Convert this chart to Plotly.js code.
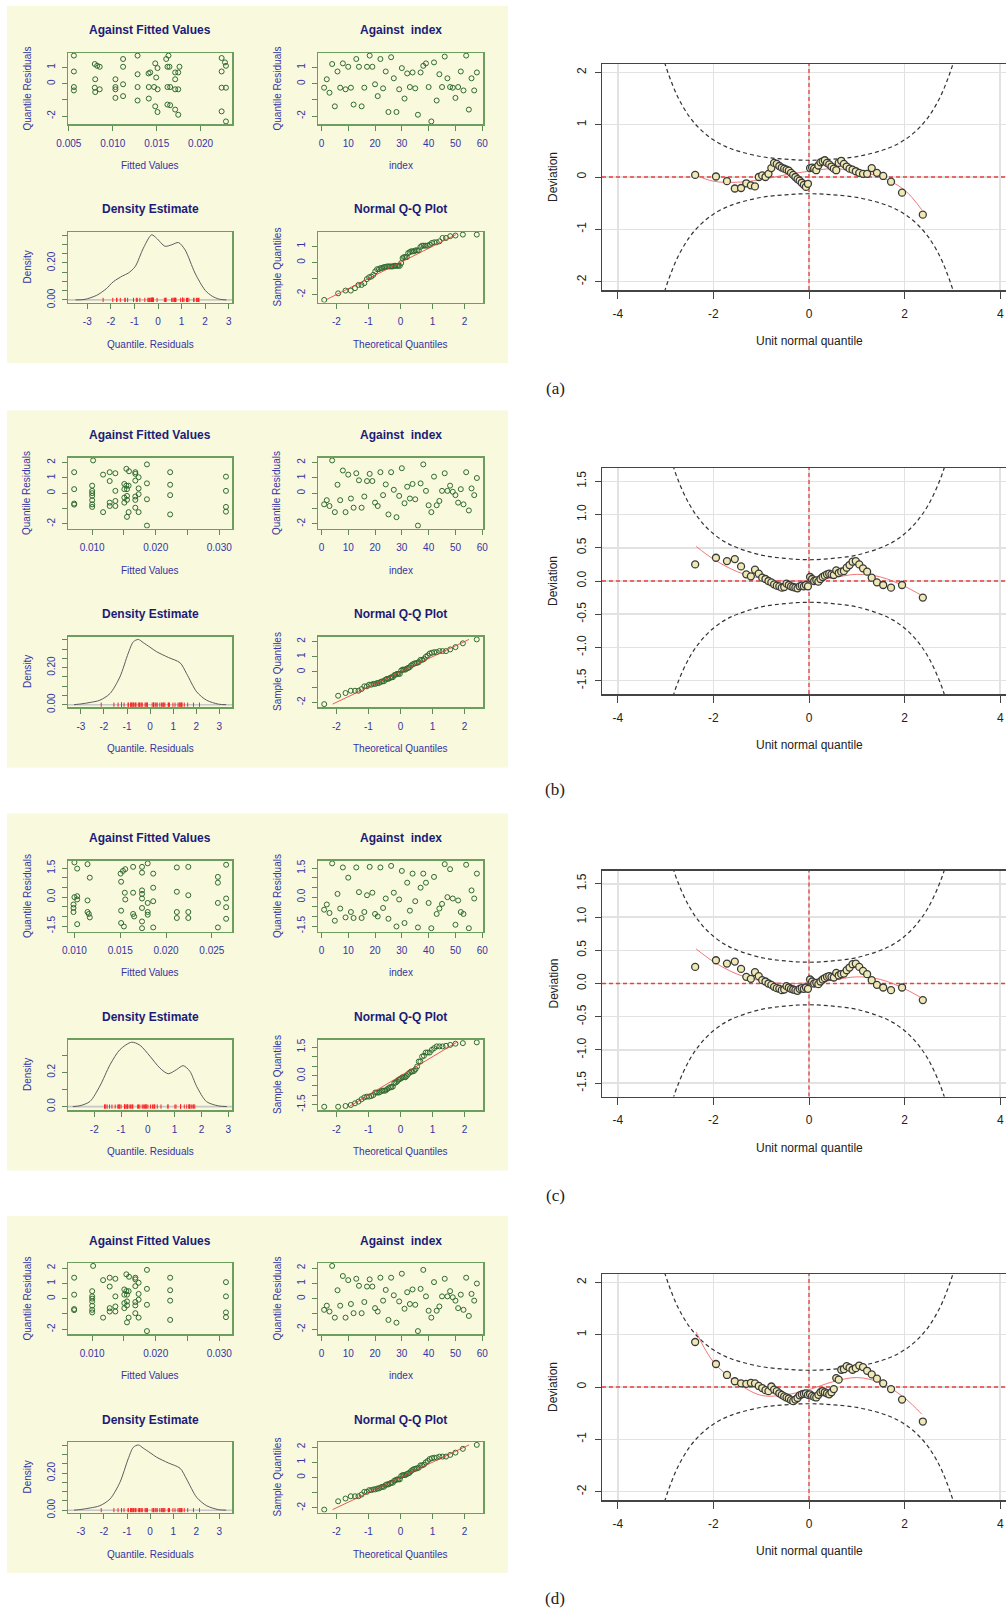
<!DOCTYPE html>
<html>
<head>
<meta charset="utf-8">
<script src="https://cdn.plot.ly/plotly-3.0.1.min.js"></script>
<style>
  html, body { margin: 0; padding: 0; overflow: hidden; background: #ffffff; width: 1006px; height: 1610px; }
  #chart { width: 1030px; height: 1610px; }
</style>
</head>
<body>
<div id="chart"></div>
<script>
// ---------------- data ----------------
// theoretical normal quantiles of the 58 ordered residuals
const tq = [-2.381,-1.946,-1.716,-1.552,-1.421,-1.312,-1.216,-1.130,-1.051,-0.979,-0.911,-0.848,-0.788,-0.730,-0.674,-0.621,-0.570,-0.519,-0.470,-0.423,-0.376,-0.330,-0.285,-0.240,-0.196,-0.152,-0.108,-0.065,-0.022,
            0.022,0.065,0.108,0.152,0.196,0.240,0.285,0.330,0.376,0.423,0.470,0.519,0.570,0.621,0.674,0.730,0.788,0.848,0.911,0.979,1.051,1.130,1.216,1.312,1.421,1.552,1.716,1.946,2.381];

// model (a): quantile residuals in observation order
const resA = [-0.25,0.27,-0.56,1.21,-1.40,0.75,-0.25,1.25,-0.35,1.04,-0.25,-1.29,1.52,1.04,-1.40,-0.25,1.04,1.73,1.04,-0.04,
              -0.77,1.52,-0.29,0.75,-1.75,1.63,0.33,-1.75,-0.35,0.96,-0.92,0.63,-0.21,0.69,-0.29,-1.92,0.69,1.10,1.25,-0.21,
              -2.33,1.31,-1.04,0.58,-0.21,1.67,0.33,-0.21,-0.25,-0.88,-0.21,0.75,-0.42,1.73,-1.60,0.33,-0.42,0.69];
const fitXA = [0.00557,0.00557,0.00557,0.00557,0.00795,0.00822,0.00851,0.0080,0.00795,0.00851,0.0080,
               0.0103,0.0103,0.0103,0.0103,0.01117,0.01117,0.01117,0.01117,0.01282,0.01282,0.01282,0.01282,
               0.01407,0.01426,0.01483,0.01509,0.01494,0.0141,0.0147,0.0151,0.0141,0.01483,0.01509,
               0.01608,0.01634,0.01622,0.01645,0.01622,0.01653,0.01622,0.01653,0.0171,0.01745,0.0171,0.0171,0.01745,0.0171,0.01745,0.01759,
               0.02239,0.02277,0.02288,0.02239,0.02239,0.02288,0.02239,0.02288];
const fitYA = [1.73,0.75,-0.21,-0.42,1.21,1.10,1.04,0.27,-0.25,-0.35,-0.52,
               0.27,-0.21,-0.35,-0.88,1.52,1.04,-0.04,-0.77,1.73,0.58,-0.21,-1.04,
               0.63,0.69,1.25,0.96,0.38,-0.21,-0.21,-0.35,-0.92,-1.40,-1.75,
               1.52,1.73,1.04,1.04,-0.21,-0.21,-1.29,-1.33,0.69,0.69,0.27,-0.35,-0.35,-1.60,-1.92,1.04,
               1.58,1.31,1.10,0.75,-0.25,-0.25,-1.71,-2.33];
const densXA = [-3.5,-3.1,-2.6,-2.2,-1.9,-1.5,-1.26,-0.97,-0.62,-0.27,-0.06,0.3,0.58,0.87,1.15,1.57,2.0,2.3,2.6,2.9];
const densYA = [0.0,0.003,0.025,0.06,0.098,0.13,0.145,0.18,0.28,0.352,0.333,0.29,0.298,0.31,0.27,0.145,0.052,0.02,0.004,0.0];
const refA = [-2.33, 1.73];

// model (b) (diagnostics repeated for model (d))
const resB = [-0.73,-0.46,-0.84,2.14,-1.24,0.55,-0.46,1.48,-1.24,1.21,-0.35,-0.95,1.30,0.84,-0.95,-0.22,0.79,1.26,0.79,-0.62,
              -0.84,1.37,-0.13,0.57,-1.39,1.37,0.22,-1.57,-0.18,1.63,-0.66,0.42,-0.35,0.60,-0.40,-2.12,0.64,1.88,0.15,-0.79,
              -1.24,1.08,-0.79,-0.51,0.15,1.30,0.15,0.49,0.09,-0.13,-0.62,0.26,-0.73,1.37,-1.13,0.31,-0.13,0.99];
const fitXB = [0.00717,0.00717,0.00717,0.00717,0.0100,0.0100,0.0100,0.0100,0.0100,0.0100,0.0100,0.01015,
               0.01172,0.01172,0.01276,0.01276,0.01276,0.01276,0.01365,0.01365,0.01365,0.01365,
               0.01538,0.0158,0.01506,0.01538,0.01574,0.01506,0.01548,0.01506,0.01548,0.01506,0.01548,0.01574,0.01548,
               0.01679,0.01679,0.01679,0.01679,0.01679,0.01679,0.01731,0.01731,0.01731,0.01731,
               0.01862,0.01862,0.01862,0.01862,0.02227,0.02227,0.02227,0.02227,0.03105,0.03105,0.03105,0.03105];
const fitYB = [1.37,0.26,-0.68,-0.75,0.49,0.15,0.0,-0.18,-0.46,-0.73,-0.90,2.14,
               1.21,-1.24,1.37,0.79,-0.62,-0.84,1.30,0.15,-0.51,-0.84,
               1.59,1.43,0.60,0.49,0.49,0.26,0.26,-0.29,-0.18,-0.62,-0.44,-1.24,-1.55,
               1.37,1.26,0.82,-0.22,-0.44,-0.95,1.04,0.31,-0.07,-1.24,
               1.88,0.64,-0.40,-2.12,1.37,0.55,-0.13,-1.39,1.08,0.15,-0.90,-1.21];
const densXB = [-3.3,-3.0,-2.6,-2.18,-1.74,-1.31,-0.95,-0.73,-0.51,-0.3,0.0,0.28,0.79,1.3,1.58,2.02,2.45,2.96,3.3];
const densYB = [0.0,0.004,0.012,0.024,0.06,0.15,0.277,0.339,0.352,0.335,0.31,0.286,0.255,0.226,0.168,0.069,0.024,0.003,0.0];
const refB = [-2.12, 2.14];

// model (c)
const resC = [-0.65,-0.38,-0.82,1.75,-1.22,0.17,-0.59,1.54,-1.05,1.01,-0.77,-1.08,1.54,0.26,-1.08,-0.77,0.10,1.57,0.23,-0.87,
              -1.0,1.54,-0.56,-0.07,-1.12,1.62,0.23,-1.52,-0.12,1.36,-1.34,0.75,-0.70,1.22,-0.21,-1.57,0.49,1.22,0.75,-0.30,
              -1.61,1.05,-0.87,-0.59,-0.35,1.71,0.0,1.45,-0.07,-1.43,-0.17,-0.77,-0.87,1.68,-1.61,0.35,-0.07,1.22];
const fitXC = [0.0100,0.0103,0.0100,0.0103,0.0103,0.0099,0.0099,0.0099,0.0103,
               0.01143,0.01168,0.01143,0.01143,0.01157,0.01168,
               0.01504,0.0151,0.0153,0.01555,0.0151,0.0151,0.0154,0.0155,0.01555,
               0.01641,0.01641,0.01641,0.01652,
               0.01738,0.01738,0.01738,0.01738,0.01738,0.01738,0.01738,0.01738,
               0.0180,0.0180,0.0180,0.0180,0.0186,0.0186,0.0186,0.0186,
               0.02118,0.02118,0.02118,0.02118,0.02243,0.02243,0.02243,0.02243,
               0.02566,0.02566,0.02566,0.02566,0.02656,0.02656,0.02656,0.02656];
const fitYC = [1.80,1.48,0.0,0.05,-0.12,-0.38,-0.56,-0.77,-1.40,
               1.71,1.01,-0.17,-0.77,-0.87,-1.05,
               1.22,0.80,1.36,1.45,-0.70,-1.34,-1.52,0.23,-0.12,
               1.57,0.23,-0.87,-1.0,
               1.57,1.27,0.35,0.17,-0.07,-0.56,-1.26,-1.61,
               -0.30,-0.77,-0.91,1.75,1.22,0.49,-0.21,-1.57,
               1.54,0.28,-0.77,-1.08,1.57,0.10,-0.77,-1.08,
               1.05,0.75,-0.30,-1.57,1.68,-0.07,-0.52,-1.12];
const densXC = [-2.8,-2.53,-2.16,-1.79,-1.41,-1.04,-0.61,-0.30,0.08,0.45,0.76,1.07,1.32,1.57,1.82,2.19,2.63,2.95];
const densYC = [0.0,0.005,0.03,0.12,0.245,0.333,0.376,0.359,0.294,0.225,0.192,0.216,0.239,0.206,0.118,0.029,0.004,0.0];
const refC = [-1.61, 1.75];

// worm plots: deviation of ordered residuals from their normal quantiles
const wormA = [0.04,0.01,-0.08,-0.22,-0.21,-0.12,-0.16,-0.18,0.00,0.03,0.00,0.06,0.17,0.27,0.25,0.21,0.18,0.16,0.14,0.12,0.08,0.04,0.00,-0.04,-0.07,-0.11,-0.15,-0.19,-0.13,
               0.17,0.18,0.16,0.13,0.22,0.28,0.30,0.32,0.27,0.24,0.20,0.16,0.13,0.27,0.31,0.25,0.20,0.16,0.14,0.11,0.08,0.06,0.06,0.17,0.08,0.02,-0.09,-0.30,-0.72];
const wormB = [0.25,0.35,0.30,0.33,0.22,0.10,0.07,0.17,0.11,0.05,0.03,0.00,-0.02,-0.05,-0.07,-0.08,-0.10,-0.09,-0.04,-0.06,-0.08,-0.09,-0.10,-0.11,-0.08,-0.07,-0.08,-0.06,-0.08,
               0.06,0.03,0.00,0.01,-0.01,0.03,0.06,0.08,0.10,0.11,0.10,0.09,0.16,0.12,0.14,0.15,0.20,0.24,0.29,0.30,0.25,0.19,0.14,0.05,-0.02,-0.06,-0.10,-0.06,-0.25];
const wormD = [0.86,0.44,0.23,0.11,0.07,0.06,0.08,0.07,0.02,-0.02,-0.06,-0.08,0.01,-0.05,-0.08,-0.12,-0.15,-0.18,-0.20,-0.22,-0.25,-0.27,-0.24,-0.21,-0.16,-0.14,-0.13,-0.12,-0.15,
               -0.14,-0.17,-0.19,-0.20,-0.15,-0.10,-0.08,-0.10,-0.12,-0.14,-0.10,-0.04,0.17,0.14,0.33,0.34,0.40,0.37,0.33,0.36,0.41,0.38,0.31,0.24,0.16,0.07,-0.04,-0.24,-0.66];
// fitted cubic curves of the worms
const wfitX = [-2.36,-2.0,-1.5,-1.0,-0.5,0,0.5,1.0,1.5,2.0,2.36];
const wfitYA = [0.03,-0.08,-0.10,-0.05,0.04,0.11,0.16,0.11,0.00,-0.25,-0.63];
const wfitYB = [0.52,0.33,0.14,0.04,0.0,0.01,0.05,0.10,0.06,-0.08,-0.22];
const wfitYD = [1.05,0.48,0.08,-0.16,-0.15,-0.05,0.10,0.18,0.08,-0.21,-0.52];
// 95% pointwise bands
const bandX  = [-3.1,-3.0,-2.9,-2.75,-2.5,-2.25,-2.0,-1.75,-1.5,-1.0,-0.5,0,0.5,1.0,1.5,1.75,2.0,2.25,2.5,2.75,2.9,3.0,3.1];
const bandUp = [2.45,2.13,1.87,1.54,1.15,0.89,0.71,0.585,0.50,0.39,0.34,0.32,0.34,0.39,0.50,0.585,0.71,0.89,1.15,1.54,1.87,2.13,2.45];
const bandLo = [-2.45,-2.13,-1.87,-1.54,-1.15,-0.89,-0.71,-0.585,-0.50,-0.39,-0.34,-0.32,-0.34,-0.39,-0.50,-0.585,-0.71,-0.89,-1.15,-1.54,-1.87,-2.13,-2.45];

// tick labels
const idxTicks = [0,10,20,30,40,50,60];
const qqTicks = [-2,-1,0,1,2];
const wormXTicks = [-4,-2,0,2,4];
const wormXText = ['-4','-2','0','2','4'];
const ticksFitA = [0.005,0.010,0.015,0.020], textFitA = ['0.005','0.010','0.015','0.020'];
const ticksFitB = [0.010,0.015,0.020,0.025,0.030], textFitB = ['0.010','','0.020','','0.030'];
const ticksFitC = [0.010,0.015,0.020,0.025], textFitC = ['0.010','0.015','0.020','0.025'];
const ticksResA = [-2,-1,0,1], textResA = ['-2','','0','1'];
const ticksResB = [-2,-1,0,1,2], textResB = ['-2','','0','1','2'];
const ticksResC = [-1.5,-1,-0.5,0,0.5,1,1.5], textResC = ['-1.5','','','0.0','','','1.5'];
const ticksDensA = [-3,-2,-1,0,1,2,3], ticksDensC = [-2,-1,0,1,2,3];
const ticksDensY = [0,0.05,0.10,0.15,0.20,0.25,0.30,0.35], textDensY = ['0.00','','','','0.20','','',''];
const ticksDensYC = [0,0.1,0.2,0.3], textDensYC = ['0.0','','0.2',''];
const wormYTicksAD = [-2,-1,0,1,2], wormYTextAD = ['-2','-1','0','1','2'];
const wormYTicksBC = [-1.5,-1,-0.5,0,0.5,1,1.5], wormYTextBC = ['-1.5','-1.0','-0.5','0.0','0.5','1.0','1.5'];
const panelLabels = ['(a)','(b)','(c)','(d)'];

// ---------------- drawing ----------------
const W = 1030, H = 1610;
const F = '"Liberation Sans", Arial, Helvetica, sans-serif';
const BEIGE = '#f9f9dd', GBOX = '#6c9e5e', GTICK = '#5f8a55', GPT = '#2f6b2f';
const NAVY = '#1c1c78', BLUE = '#3434a4';
const RED_REF = {color: '#e8413c', width: 1.3, dash: '4px,3px'};

const panels = [
  {so: 0,     wo: 0,    ly: 388,  res: resA, fx: fitXA, fy: fitYA, dx: densXA, dy: densYA, ref: refA,
   fitR: [0.0049, 0.02357], fitT: ticksFitA, fitL: textFitA, resR: [-2.49, 1.89], resT: ticksResA, resL: textResA,
   dR: [-3.82, 3.14], dT: ticksDensA, dyR: [-0.014, 0.367], dyT: ticksDensY, dyL: textDensY,
   worm: wormA, wfit: wfitYA, wR: [-2.16, 2.16], wT: wormYTicksAD, wL: wormYTextAD},
  {so: 404.5, wo: 404,  ly: 790,  res: resB, fx: fitXB, fy: fitYB, dx: densXB, dy: densYB, ref: refB,
   fitR: [0.0062, 0.0320], fitT: ticksFitB, fitL: textFitB, resR: [-2.31, 2.33], resT: ticksResB, resL: textResB,
   dR: [-3.56, 3.55], dT: ticksDensA, dyR: [-0.0125, 0.368], dyT: ticksDensY, dyL: textDensY,
   worm: wormB, wfit: wfitYB, wR: [-1.70, 1.70], wT: wormYTicksBC, wL: wormYTextBC},
  {so: 807.5, wo: 806.5, ly: 1195, res: resC, fx: fitXC, fy: fitYC, dx: densXC, dy: densYC, ref: refC,
   fitR: [0.0093, 0.0272], fitT: ticksFitC, fitL: textFitC, resR: [-1.78, 1.90], resT: ticksResC, resL: textResC,
   dR: [-2.98, 3.14], dT: ticksDensC, dyR: [-0.02, 0.392], dyT: ticksDensYC, dyL: textDensYC,
   worm: wormB, wfit: wfitYB, wR: [-1.70, 1.70], wT: wormYTicksBC, wL: wormYTextBC},
  {so: 1210,  wo: 1210, ly: 1598, res: resB, fx: fitXB, fy: fitYB, dx: densXB, dy: densYB, ref: refB,
   fitR: [0.0062, 0.0320], fitT: ticksFitB, fitL: textFitB, resR: [-2.31, 2.33], resT: ticksResB, resL: textResB,
   dR: [-3.56, 3.55], dT: ticksDensA, dyR: [-0.0125, 0.368], dyT: ticksDensY, dyL: textDensY,
   worm: wormD, wfit: wfitYD, wR: [-2.16, 2.16], wT: wormYTicksAD, wL: wormYTextAD}
];

const traces = [], bgShapes = [], lineShapes = [], annotations = [];
const layout = {
  width: W, height: H, margin: {l: 0, r: 0, t: 0, b: 0},
  paper_bgcolor: '#ffffff', plot_bgcolor: 'rgba(0,0,0,0)',
  showlegend: false, hovermode: false, font: {family: F}
};

const ref = (c, n) => c + (n === 1 ? '' : n);
const key = (c, n) => c + 'axis' + (n === 1 ? '' : n);
const xd = (a, b) => [a / W, b / W];
const yd = (top, bottom) => [1 - bottom / H, 1 - top / H];

function smallAxis(extra) {
  return Object.assign({
    showline: true, mirror: true, linecolor: GBOX, linewidth: 1.5,
    ticks: 'outside', ticklen: 5, tickwidth: 1, tickcolor: GTICK,
    showgrid: false, zeroline: false, tickmode: 'array', fixedrange: true,
    tickfont: {family: F, size: 10, color: BLUE}
  }, extra);
}
function wormAxis(extra) {
  return Object.assign({
    showline: true, mirror: true, linecolor: '#444444', linewidth: 1.5,
    ticks: 'outside', ticklen: 6, tickwidth: 1, tickcolor: '#444444',
    showgrid: true, gridcolor: '#e2e2e2', gridwidth: 1.5, zeroline: false,
    tickmode: 'array', fixedrange: true,
    tickfont: {family: F, size: 12, color: '#222222'}
  }, extra);
}
function ann(x, y, text, size, color, extra) {
  annotations.push(Object.assign({
    xref: 'paper', yref: 'paper', x: x / W, y: 1 - y / H, text: text, showarrow: false,
    xanchor: 'center', yanchor: 'middle', font: {family: F, size: size, color: color}
  }, extra || {}));
}
const openPt = {symbol: 'circle-open', size: 5, color: GPT, line: {width: 1, color: GPT}};

panels.forEach((p, i) => {
  const b = i * 5, so = p.so, wo = p.wo;
  const idx = p.res.map((_, k) => k + 1);
  const qqY = p.res.slice().sort((u, v) => u - v);

  bgShapes.push({type: 'rect', xref: 'paper', yref: 'paper', layer: 'below',
                 x0: 7 / W, x1: 508 / W, y0: 1 - (363 + so) / H, y1: 1 - (6 + so) / H,
                 fillcolor: BEIGE, line: {width: 0}});

  // residuals against fitted values
  let n = b + 1;
  layout[key('x', n)] = smallAxis({domain: xd(68, 232), anchor: ref('y', n), range: p.fitR, tickvals: p.fitT, ticktext: p.fitL, ticklabelstandoff: 4});
  layout[key('y', n)] = smallAxis({domain: yd(53 + so, 124 + so), anchor: ref('x', n), range: p.resR, tickvals: p.resT, ticktext: p.resL, tickangle: -90, ticklabelstandoff: 3});
  traces.push({type: 'scatter', mode: 'markers', x: p.fx, y: p.fy, xaxis: ref('x', n), yaxis: ref('y', n), marker: openPt});

  // residuals against index
  n = b + 2;
  layout[key('x', n)] = smallAxis({domain: xd(318, 483), anchor: ref('y', n), range: [-1.28, 60.28], tickvals: idxTicks, ticktext: idxTicks.map(String), ticklabelstandoff: 4});
  layout[key('y', n)] = smallAxis({domain: yd(53 + so, 124 + so), anchor: ref('x', n), range: p.resR, tickvals: p.resT, ticktext: p.resL, tickangle: -90, ticklabelstandoff: 3});
  traces.push({type: 'scatter', mode: 'markers', x: idx, y: p.res, xaxis: ref('x', n), yaxis: ref('y', n), marker: openPt});

  // kernel density of the residuals with rug
  n = b + 3;
  layout[key('x', n)] = smallAxis({domain: xd(68, 232), anchor: ref('y', n), range: p.dR, tickvals: p.dT, ticktext: p.dT.map(String), ticklabelstandoff: 4});
  layout[key('y', n)] = smallAxis({domain: yd(232 + so, 302.5 + so), anchor: ref('x', n), range: p.dyR, tickvals: p.dyT, ticktext: p.dyL, tickangle: -90, ticklabelstandoff: 3});
  lineShapes.push({type: 'line', layer: 'below', xref: ref('x', n), x0: p.dR[0], x1: p.dR[1], yref: ref('y', n), y0: 0, y1: 0,
                   line: {color: '#c8c8c8', width: 1.6}});
  traces.push({type: 'scatter', mode: 'lines', x: p.dx, y: p.dy, xaxis: ref('x', n), yaxis: ref('y', n),
               line: {color: '#5c5c5c', width: 1, shape: 'spline', smoothing: 0.8}});
  traces.push({type: 'scatter', mode: 'markers', x: p.res, y: p.res.map(() => 0), xaxis: ref('x', n), yaxis: ref('y', n),
               marker: {symbol: 'line-ns', size: 3, line: {color: '#ff2020', width: 1}}});

  // normal Q-Q plot
  n = b + 4;
  layout[key('x', n)] = smallAxis({domain: xd(318, 483), anchor: ref('y', n), range: [-2.575, 2.575], tickvals: qqTicks, ticktext: qqTicks.map(String), ticklabelstandoff: 4});
  layout[key('y', n)] = smallAxis({domain: yd(232 + so, 302.5 + so), anchor: ref('x', n), range: p.resR, tickvals: p.resT, ticktext: p.resL, tickangle: -90, ticklabelstandoff: 3});
  traces.push({type: 'scatter', mode: 'markers', x: tq, y: qqY, xaxis: ref('x', n), yaxis: ref('y', n), marker: openPt});
  traces.push({type: 'scatter', mode: 'lines', x: p.ref, y: p.ref, xaxis: ref('x', n), yaxis: ref('y', n),
               line: {color: '#ee3030', width: 0.8}});

  // worm plot
  n = b + 5;
  const wx = [-4.33, 4.33];
  layout[key('x', n)] = wormAxis({domain: xd(602, 1016), anchor: ref('y', n), range: wx, tickvals: wormXTicks, ticktext: wormXText, ticklen: 7, ticklabelstandoff: 5});
  layout[key('y', n)] = wormAxis({domain: yd(64 + wo, 290 + wo), anchor: ref('x', n), range: p.wR, tickvals: p.wT, ticktext: p.wL, tickangle: -90, ticklabelstandoff: 4});
  // red dashed reference lines at zero deviation and zero quantile
  traces.push({type: 'scatter', mode: 'lines', x: wx, y: [0, 0], xaxis: ref('x', n), yaxis: ref('y', n), line: RED_REF});
  traces.push({type: 'scatter', mode: 'lines', x: [0, 0], y: p.wR, xaxis: ref('x', n), yaxis: ref('y', n), line: RED_REF});
  [bandUp, bandLo].forEach(bd => traces.push({type: 'scatter', mode: 'lines', x: bandX, y: bd, xaxis: ref('x', n), yaxis: ref('y', n),
               line: {color: '#333333', width: 1.2, dash: '4px,3px', shape: 'spline', smoothing: 1}}));
  traces.push({type: 'scatter', mode: 'lines', x: wfitX, y: p.wfit, xaxis: ref('x', n), yaxis: ref('y', n),
               line: {color: '#f06868', width: 0.9, shape: 'spline', smoothing: 1}});
  traces.push({type: 'scatter', mode: 'markers', x: tq, y: p.worm, xaxis: ref('x', n), yaxis: ref('y', n),
               marker: {symbol: 'circle', size: 7, color: '#efe9b4', line: {color: '#3a3a3a', width: 1.3}}});

  // titles and axis labels
  ann(150, 30.5 + so, '<b>Against Fitted Values</b>', 12, NAVY);
  ann(400.5, 30.5 + so, '<b>Against\u00a0 index</b>', 12, NAVY);
  ann(150, 209.5 + so, '<b>Density Estimate</b>', 12, NAVY);
  ann(400.5, 209.5 + so, '<b>Normal Q-Q Plot</b>', 12, NAVY);
  ann(150, 165.5 + so, 'Fitted Values', 10, BLUE);
  ann(400.5, 165.5 + so, 'index', 10, BLUE);
  ann(150, 344 + so, 'Quantile. Residuals', 10, BLUE);
  ann(400.5, 344 + so, 'Theoretical Quantiles', 10, BLUE);
  ann(27, 88.5 + so, 'Quantile Residuals', 10, BLUE, {textangle: -90});
  ann(277, 88.5 + so, 'Quantile Residuals', 10, BLUE, {textangle: -90});
  ann(27, 267.5 + so, 'Density', 10, BLUE, {textangle: -90});
  ann(277, 267.5 + so, 'Sample Quantiles', 10, BLUE, {textangle: -90});
  ann(553, 177 + wo, 'Deviation', 12, '#222222', {textangle: -90});
  ann(809, 341 + wo, 'Unit normal quantile', 12, '#222222');
  ann(555, p.ly, panelLabels[i], 17, '#222222', {font: {family: '"Liberation Serif", "DejaVu Serif", serif', size: 17, color: '#222222'}});
});

layout.shapes = bgShapes.concat(lineShapes);
layout.annotations = annotations;
Plotly.newPlot('chart', traces, layout, {staticPlot: true, displayModeBar: false});
</script>
</body>
</html>
